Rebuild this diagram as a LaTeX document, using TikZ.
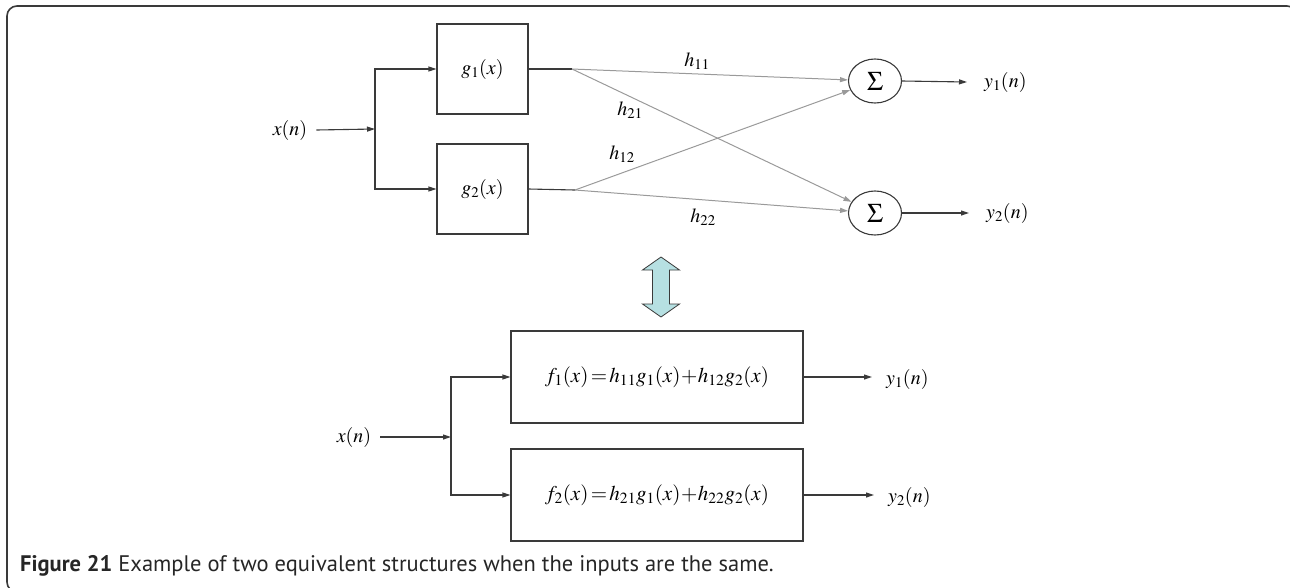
\documentclass[tikz,border=0pt]{standalone}
\usepackage{mathptmx}
\usepackage[no-math]{fontspec}
\setsansfont{PT Sans}
\usepackage{tikz}
\usetikzlibrary{arrows.meta,shapes.geometric}

\definecolor{framegray}{HTML}{3A3A3A}
\definecolor{linkgray}{HTML}{9A9A9A}
\definecolor{arrowcyan}{HTML}{B6E0E2}

\tikzset{
  blk/.style={draw=framegray,line width=1.1pt,minimum width=91pt,minimum height=90pt,
    inner sep=0pt,font=\fontsize{20}{24}\selectfont},
  fblk/.style={blk,minimum width=292pt,minimum height=92pt,font=\fontsize{21}{24}\selectfont},
  sumnode/.style={ellipse,draw=framegray,line width=1.1pt,minimum width=53pt,
    minimum height=44pt,inner sep=0pt,font=\fontsize{27}{30}\selectfont},
  lbl/.style={inner sep=0pt,font=\fontsize{20}{24}\selectfont},
  sig/.style={->,line width=1.1pt,draw=framegray},
  wire/.style={line width=1.1pt,draw=framegray},
  gain/.style={->,line width=1pt,draw=linkgray},
}

\begin{document}
\begin{tikzpicture}[x=1pt,y=-1pt,>={Triangle[length=8pt,width=5pt]}]
  \useasboundingbox (0,0) rectangle (1290,587);
  \clip (0,0) rectangle (1290,587);
  % frame
  \draw[line width=1.6pt,framegray,rounded corners=10pt] (30,592) -- (7,592) -- (7,6) -- (1297,6) -- (1297,40);

  % upper structure
  \node[lbl] (xa) at (290,130) {$x(n)$};
  \coordinate (ja) at (375,129);
  \node[blk] (g1) at (482.5,69) {$g_1(x)$};
  \node[blk] (g2) at (482.5,189) {$g_2(x)$};
  \node[sumnode] (s1) at (875,81) {$\Sigma$};
  \node[sumnode] (s2) at (875,213) {$\Sigma$};
  \node[lbl,anchor=west] (y1) at (984,82) {$y_1(n)$};
  \node[lbl,anchor=west] (y2) at (986,213) {$y_2(n)$};
  \coordinate (o1) at (572,69);
  \coordinate (o2) at (575,190);
  \node[lbl] (h11) at (697,61) {$h_{11}$};
  \node[lbl] (h21) at (630,110) {$h_{21}$};
  \node[lbl] (h12) at (622,154) {$h_{12}$};
  \node[lbl] (h22) at (703,217) {$h_{22}$};

  \draw[sig] ([xshift=9pt]xa.east) -- (ja);
  \draw[sig] (ja) |- (g1.west);
  \draw[sig] (ja) |- (g2.west);
  \draw[wire] (g1.east) -- (o1);
  \draw[wire] (g2.east) -- (o2);
  \draw[gain] (o1) -- (s1);
  \draw[gain] (o1) -- (s2);
  \draw[gain] (o2) -- (s1);
  \draw[gain] (o2) -- (s2);
  \draw[sig] (s1.east) -- ([xshift=-17pt]y1.west);
  \draw[sig] (s2.east) -- ([xshift=-17pt]y2.west);

  % equivalence arrow
  \filldraw[fill=arrowcyan,draw=framegray,line width=0.8pt]
    (661,257) -- (679.5,270) -- (669.5,270) -- (669.5,304) -- (679.5,304)
    -- (661,317) -- (642.5,304) -- (652.5,304) -- (652.5,270) -- (642.5,270) -- cycle;

  % lower structure
  \node[lbl] (xb) at (354,437) {$x(n)$};
  \coordinate (jb) at (451,437);
  \node[fblk] (f1) at (657,377) {$f_1(x)\!=\!h_{11}g_1(x)\!+\!h_{12}g_2(x)$};
  \node[fblk] (f2) at (657,495) {$f_2(x)\!=\!h_{21}g_1(x)\!+\!h_{22}g_2(x)$};
  \node[lbl,anchor=west] (y3) at (886,379) {$y_1(n)$};
  \node[lbl,anchor=west] (y4) at (888,497) {$y_2(n)$};

  \draw[sig] ([xshift=9pt]xb.east) -- (jb);
  \draw[sig] (jb) |- (f1.west);
  \draw[sig] (jb) |- (f2.west);
  \draw[sig] (f1.east) -- ([xshift=-14pt]y3.west|-f1.east);
  \draw[sig] (f2.east) -- ([xshift=-14pt]y4.west|-f2.east);

  % caption
  \node[anchor=base west,inner sep=0pt,text=black!85,
    font=\sffamily\fontsize{22.5}{26}\selectfont] (cap) at (20,571)
    {\textbf{Figure 21} Example of two equivalent structures when the inputs are the same.};
\end{tikzpicture}
\end{document}
